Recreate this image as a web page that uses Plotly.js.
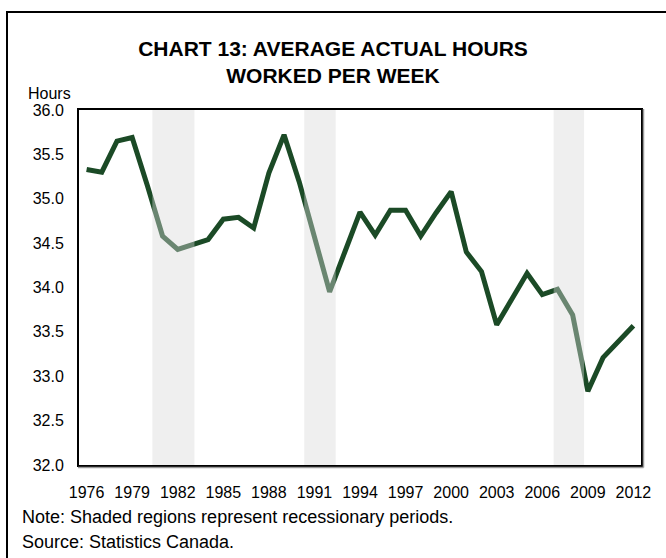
<!DOCTYPE html>
<html>
<head>
<meta charset="utf-8">
<script src="https://cdn.plot.ly/plotly-3.0.1.min.js"></script>
<style>
html,body{margin:0;padding:0;background:#fff;}
#chart{width:666px;height:558px;}
</style>
</head>
<body>
<div id="chart"></div>
<script>
// ---- data ----
var years = [1976,1977,1978,1979,1980,1981,1982,1983,1984,1985,
             1986,1987,1988,1989,1990,1991,1992,1993,1994,1995,
             1996,1997,1998,1999,2000,2001,2002,2003,2004,2005,
             2006,2007,2008,2009,2010,2011,2012];
var hours = [35.33,35.30,35.65,35.69,35.15,34.58,34.43,34.49,34.54,34.77,
             34.79,34.67,35.29,35.72,35.19,34.57,33.95,34.40,34.85,34.59,
             34.87,34.87,34.58,34.84,35.08,34.40,34.18,33.58,33.88,34.16,
             33.92,33.98,33.69,32.83,33.21,33.39,33.57];
var tickYears = [1976,1979,1982,1985,1988,1991,1994,1997,2000,2003,2006,2009,2012];
var recessionStart = [1980.33, 1990.33, 2006.75];
var recessionEnd   = [1983.10, 1992.40, 2008.75];

var FONT = 'Liberation Sans, Arial, sans-serif';

var shapes = [];
for (var i = 0; i < recessionStart.length; i++) {
  shapes.push({
    type: 'rect', xref: 'x', yref: 'paper',
    x0: recessionStart[i], x1: recessionEnd[i], y0: 0, y1: 1,
    fillcolor: 'rgba(218,218,218,0.42)', line: {width: 0}, layer: 'above'
  });
}
// outer frame
shapes.push({
  type: 'rect', xref: 'paper', yref: 'paper',
  x0: (7-79)/562, x1: (700-79)/562, y0: (465-600)/355, y1: (465-12)/355,
  line: {color: '#000', width: 2}, fillcolor: 'rgba(0,0,0,0)', layer: 'below'
});
// soft grey shadow right and below the plot box
shapes.push({type: 'line', xref: 'paper', yref: 'paper',
  x0: 1 + 2.5/562, x1: 1 + 2.5/562, y0: -2.5/355, y1: 1 + 1/355,
  line: {color: '#9a9a9a', width: 1.5}});
shapes.push({type: 'line', xref: 'paper', yref: 'paper',
  x0: -1/562, x1: 1 + 2.5/562, y0: -2.5/355, y1: -2.5/355,
  line: {color: '#9a9a9a', width: 1.5}});

var trace = {
  x: years, y: hours, type: 'scatter', mode: 'lines',
  line: {color: '#1b4a26', width: 5},
  hoverinfo: 'x+y'
};

var layout = {
  width: 666, height: 558,
  margin: {l: 79, r: 25, t: 110, b: 93},
  paper_bgcolor: '#fff', plot_bgcolor: '#fff',
  showlegend: false,
  font: {family: FONT, color: '#000', size: 16},
  title: {
    text: 'CHART 13: AVERAGE ACTUAL HOURS<br>WORKED PER WEEK',
    font: {family: FONT, size: 21, color: '#000', weight: 'bold'},
    x: 0.5, xref: 'container', xanchor: 'center',
    y: 1 - 56/558, yref: 'container', yanchor: 'middle'
  },
  xaxis: {
    range: [1975.5, 2012.5], tickvals: tickYears, ticktext: tickYears.map(String),
    showgrid: false, zeroline: false,
    showline: true, mirror: true, linecolor: '#000', linewidth: 2,
    ticks: 'outside', ticklen: 12, tickcolor: 'rgba(0,0,0,0)',
    tickfont: {family: FONT, size: 16, color: '#000'}
  },
  yaxis: {
    range: [32, 36], dtick: 0.5, tick0: 32, tickformat: '.1f',
    showgrid: false, zeroline: false,
    showline: true, mirror: true, linecolor: '#000', linewidth: 2,
    ticks: 'outside', ticklen: 10, tickcolor: 'rgba(0,0,0,0)',
    tickfont: {family: FONT, size: 16, color: '#000'}
  },
  shapes: shapes,
  annotations: [
    {text: 'Hours', xref: 'paper', yref: 'paper', x: (49-79)/562, y: (465-93)/355,
     xanchor: 'center', yanchor: 'middle', showarrow: false,
     font: {family: FONT, size: 16, color: '#000'}},
    {text: 'Note: Shaded regions represent recessionary periods.', xref: 'paper', yref: 'paper',
     x: (20-79)/562, y: (465-517)/355, xanchor: 'left', yanchor: 'middle', showarrow: false,
     font: {family: FONT, size: 18, color: '#000'}},
    {text: 'Source: Statistics Canada.', xref: 'paper', yref: 'paper',
     x: (20-79)/562, y: (465-542)/355, xanchor: 'left', yanchor: 'middle', showarrow: false,
     font: {family: FONT, size: 18, color: '#000'}}
  ]
};

Plotly.newPlot('chart', [trace], layout, {displayModeBar: false, staticPlot: true});
</script>
</body>
</html>
